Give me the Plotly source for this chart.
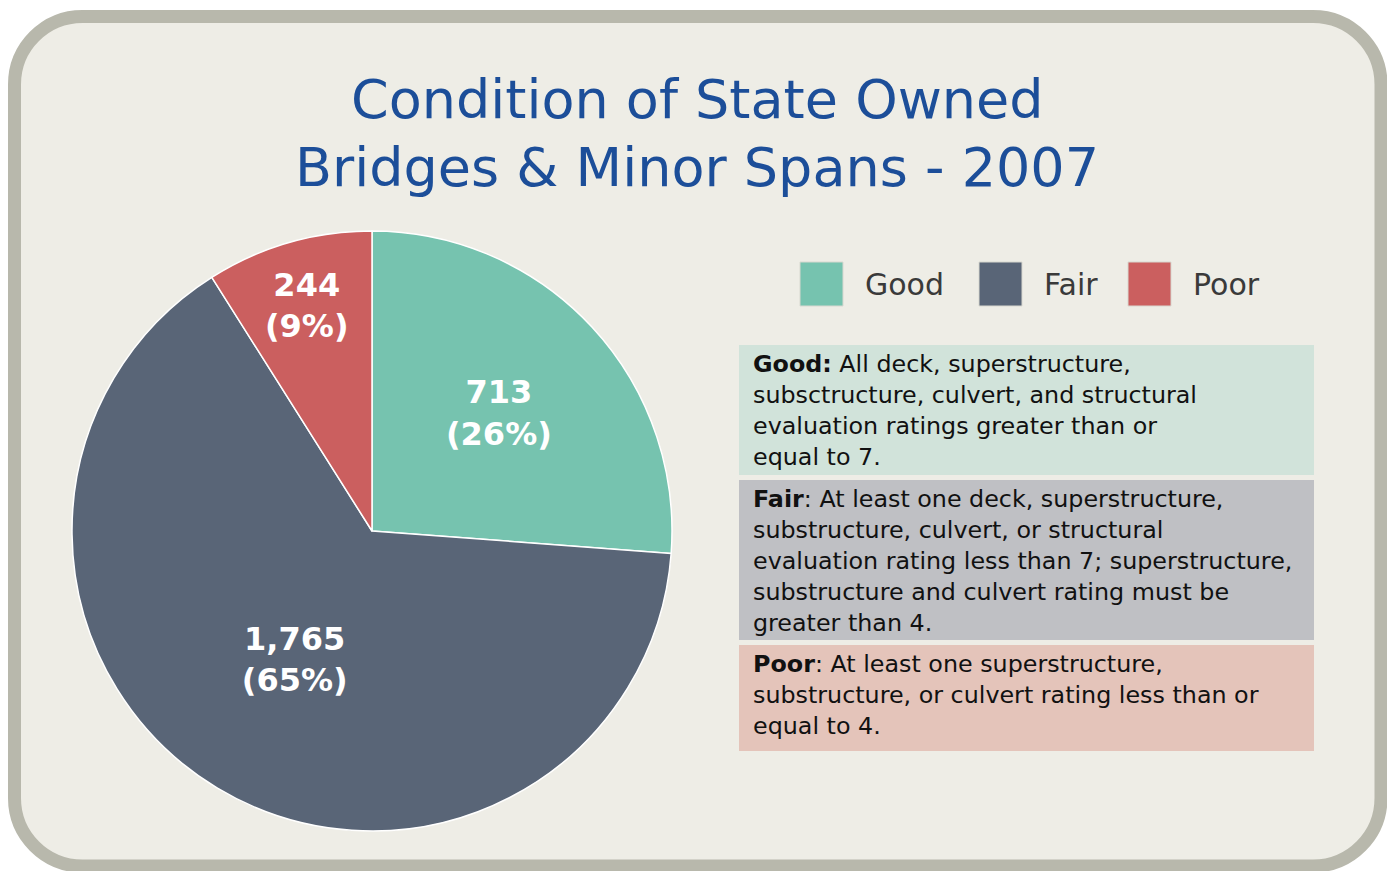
import plotly.graph_objects as go

W, H = 1395, 871
OX, OY = 8, 8  # page body margin offset

categories = ["Good", "Fair", "Poor"]
counts = [713, 1765, 244]
colors = ["#76C3AF", "#596577", "#CB5F5F"]
box_colors = ["#D1E3DA", "#BFC0C4", "#E4C4BA"]
descriptions = [
    "<b>Good:</b> All deck, superstructure,<br>subsctructure, culvert, and structural<br>evaluation ratings greater than or<br>equal to 7.",
    "<b>Fair</b>: At least one deck, superstructure,<br>substructure, culvert, or structural<br>evaluation rating less than 7; superstructure,<br>substructure and culvert rating must be<br>greater than 4.",
    "<b>Poor</b>: At least one superstructure,<br>substructure, or culvert rating less than or<br>equal to 4.",
]
title_lines = ["Condition of State Owned", "Bridges &amp; Minor Spans - 2007"]

FONT = "DejaVu Sans"


def px(x):
    return (x - OX) / W


def py(y):
    return 1 - (y - OY) / H


fig = go.Figure()

# pie: center (372,531), radius 300
cx, cy, R = 372, 531, 300
fig.add_trace(go.Pie(
    labels=categories,
    values=counts,
    sort=False,
    direction="clockwise",
    rotation=0,
    marker=dict(colors=colors, line=dict(color="#FFFFFF", width=1.5)),
    texttemplate="<b>%{value:,}<br>(%{percent:.0%})</b>",
    textposition="inside",
    insidetextorientation="horizontal",
    textfont=dict(family=FONT, size=32, color="#FFFFFF"),
    domain=dict(x=[px(cx - R), px(cx + R)], y=[py(cy + R), py(cy - R)]),
    showlegend=False,
    hoverinfo="label+value+percent",
))

shapes = []
# rounded frame (centerline of the border)
l, t, r, b, rad = 14.5, 16.5, 1381, 866, 68
k = 0.5523 * rad


def P(x, y):
    return f"{px(x)},{py(y)}"


path = (
    f"M {P(l + rad, t)} L {P(r - rad, t)} "
    f"C {P(r - rad + k, t)} {P(r, t + rad - k)} {P(r, t + rad)} "
    f"L {P(r, b - rad)} "
    f"C {P(r, b - rad + k)} {P(r - rad + k, b)} {P(r - rad, b)} "
    f"L {P(l + rad, b)} "
    f"C {P(l + rad - k, b)} {P(l, b - rad + k)} {P(l, b - rad)} "
    f"L {P(l, t + rad)} "
    f"C {P(l, t + rad - k)} {P(l + rad - k, t)} {P(l + rad, t)} Z"
)
shapes.append(dict(type="path", xref="paper", yref="paper", path=path,
                   fillcolor="#EEEDE6", line=dict(color="#B8B8AC", width=13),
                   layer="below"))

annotations = []
# title
for i, line in enumerate(title_lines):
    annotations.append(dict(
        x=px(697), y=py(100 + i * 67), xref="paper", yref="paper",
        text=line, showarrow=False, xanchor="center", yanchor="middle",
        font=dict(family=FONT, size=54, color="#1C4E99"),
    ))

# custom legend
leg_x = [800, 979, 1128]
for i, cat in enumerate(categories):
    x0 = leg_x[i]
    shapes.append(dict(type="rect", xref="paper", yref="paper",
                       x0=px(x0), x1=px(x0 + 43), y0=py(306), y1=py(262),
                       fillcolor=colors[i], line=dict(color="#D8D8D0", width=1)))
    annotations.append(dict(
        x=px(x0 + 63), y=py(284), xref="paper", yref="paper",
        text=cat, showarrow=False, xanchor="left", yanchor="middle",
        font=dict(family=FONT, size=30, color="#3A3A3A"),
    ))

# definition boxes
box_y = [(345, 475), (480, 640), (645, 751)]
for i in range(3):
    y0, y1 = box_y[i]
    shapes.append(dict(type="rect", xref="paper", yref="paper",
                       x0=px(739), x1=px(1314), y0=py(y1), y1=py(y0),
                       fillcolor=box_colors[i], line=dict(width=0), layer="below"))
    annotations.append(dict(
        x=px(751), y=py(y0 + 3), xref="paper", yref="paper",
        text=descriptions[i], showarrow=False, xanchor="left", yanchor="top",
        align="left",
        font=dict(family=FONT, size=23.8, color="#111111"),
    ))

fig.update_layout(
    width=W, height=H,
    margin=dict(l=0, r=0, t=0, b=0),
    paper_bgcolor="#FFFFFF",
    plot_bgcolor="#FFFFFF",
    shapes=shapes,
    annotations=annotations,
    showlegend=False,
)

fig.write_html("out.html")
